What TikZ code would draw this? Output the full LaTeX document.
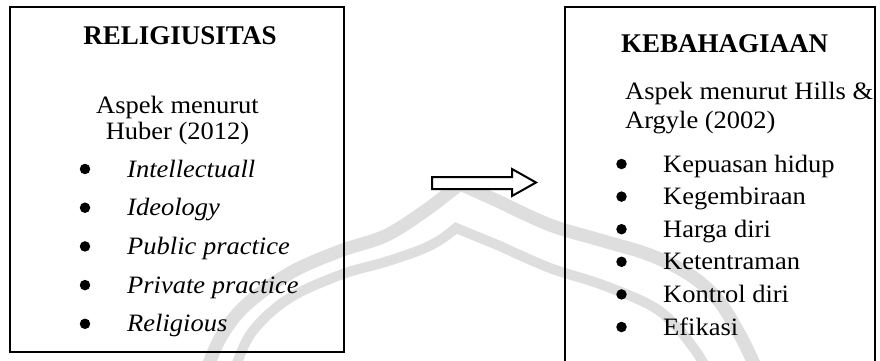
\documentclass[tikz,border=0pt]{standalone}
\usepackage{fontspec}
\setmainfont{Liberation Serif}[FakeStretch=1.06]
\newfontfamily\headfont{Liberation Serif}
\begin{document}
\begin{tikzpicture}[x=1pt,y=-1pt,
  frame/.style={draw=black,line width=2pt,rectangle,inner sep=0pt},
  headtext/.style={font=\fontsize{27}{32}\headfont\bfseries,inner sep=0pt},
  bodytext/.style={font=\fontsize{25}{30}\selectfont,inner sep=0pt},
  itemtext/.style={font=\fontsize{25}{30}\selectfont\itshape,inner sep=0pt,anchor=base west},
  plaintext/.style={font=\fontsize{25}{30}\selectfont,inner sep=0pt,anchor=base west},
  dot/.style={circle,fill=black,inner sep=0pt,minimum size=10.5pt},
  mark band/.style={draw=black!13,line join=miter,line cap=butt},
  arrowbox/.style={draw=black,fill=white,line width=2pt,line join=miter}]
\useasboundingbox (0,0) rectangle (880,360);

% faint roof-shaped emblem behind the content
\draw[mark band,line width=13pt]
  plot[smooth,tension=0.6] coordinates {(208,366) (222,335) (246,305) (290,273) (340,251) (385,236) (422,213) (446,195) (460,184)}
  --plot[smooth,tension=0.6] coordinates {(500,202) (550,225) (600,240) (650,255) (690,275) (718,300) (740,335) (755,366)};
\draw[mark band,line width=10pt]
  plot[smooth,tension=0.6] coordinates {(236,366) (252,332) (288,299) (340,275) (385,262) (420,250) (440,240) (456,228)}
  --plot[smooth,tension=0.6] coordinates {(500,246) (550,268) (600,284) (650,305) (675,325) (695,350) (705,366)};

% the two concept boxes
\node[frame,minimum width=334pt,minimum height=345pt] (rel) at (177,179.5) {};
\node[frame,minimum width=310pt,minimum height=360pt] (keb) at (720,187) {};

% left box: religiosity
\node[headtext,anchor=base] (relhead) at (180,44) {RELIGIUSITAS};
\node[bodytext,anchor=base] (relsrc1) at (177.5,113) {Aspek menurut};
\node[bodytext,anchor=base] (relsrc2) at (177.5,139) {Huber (2012)};
\foreach \t [count=\i from 0] in {Intellectuall,Ideology,Public practice,Private practice,Religious}{
  \node[dot] (reldot\i) at (85,{177+38.7*\i-8}) {};
  \node[itemtext] (relitem\i) at (127,{177+38.7*\i}) {\t};
}

% right box: happiness
\node[headtext,anchor=base west] (kebhead) at (621,52) {KEBAHAGIAAN};
\node[plaintext] (kebsrc1) at (625,99) {Aspek menurut Hills \&};
\node[plaintext] (kebsrc2) at (625,128) {Argyle (2002)};
\foreach \t [count=\i from 0] in {Kepuasan hidup,Kegembiraan,Harga diri,Ketentraman,Kontrol diri,Efikasi}{
  \node[dot] (kebdot\i) at (621.5,{172+32.6*\i-8}) {};
  \node[plaintext] (kebitem\i) at (663,{172+32.6*\i}) {\t};
}

% block arrow between the boxes
\coordinate (tail) at (432,183);
\coordinate (tip) at (536,182.5);
\draw[arrowbox] ([yshift=6pt]tail) -- (512,177) -- (512,169) -- (tip) -- (512,196) -- (512,189) -- ([yshift=-6pt]tail) -- cycle;
\end{tikzpicture}
\end{document}
